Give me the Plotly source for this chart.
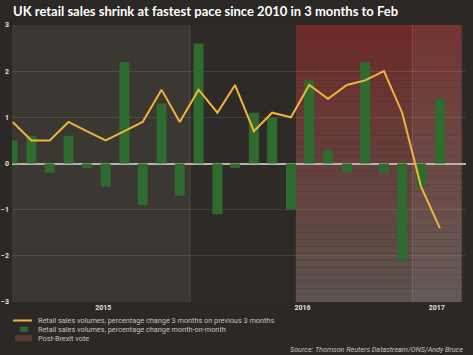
import plotly.graph_objects as go
import pandas as pd

# ---- data ----
months = ["2015-03", "2015-04", "2015-05", "2015-06", "2015-07", "2015-08",
          "2015-09", "2015-10", "2015-11", "2015-12", "2016-01", "2016-02",
          "2016-03", "2016-04", "2016-05", "2016-06", "2016-07", "2016-08",
          "2016-09", "2016-10", "2016-11", "2016-12", "2017-01", "2017-02"]
mom_change = [0.5, 0.6, -0.2, 0.6, -0.1, -0.5, 2.2, -0.9, 1.3, -0.7, 2.6, -1.1,
              -0.1, 1.1, 1.0, -1.0, 1.8, 0.3, -0.2, 2.2, -0.2, -2.1, -0.5, 1.4]
three_month_change = [0.9, 0.5, 0.5, 0.9, 0.7, 0.5, 0.7, 0.9, 1.6, 0.9, 1.6, 1.1,
                      1.7, 0.7, 1.1, 1.0, 1.7, 1.4, 1.7, 1.8, 2.0, 1.1, -0.5, -1.4]
year_labels = ["2015", "2016", "2017"]
year_label_pos = ["2015-08-11", "2016-07-04", "2017-02-10"]
y_ticks = [-3, -2, -1, 0, 1, 2, 3]

title = "UK retail sales shrink at fastest pace since 2010 in 3 months to Feb"
legend_labels = ["Retail sales volumes, percentage change 3 months on previous 3 months",
                 "Retail sales volumes, percentage change month-on-month",
                 "Post-Brexit vote"]
source = "Source: Thomson Reuters Datastream/ONS/Andy Bruce"

x_dates = [pd.Timestamp(m + "-15") for m in months]

W, H = 473, 355
ML, MR, MT, MB = 12, 7, 25, 53
PW, PH = W - ML - MR, H - MT - MB

def px2x(px):
    return (px - ML) / PW

def px2y(py):
    return (H - MB - py) / PH

PAPER = "#2c2825"
BG2016 = "#2e2a27"
BG2015 = "#3b3733"
GREEN = "#2f6a2e"
LINE = "#f0b43a"
TXT = "#c9c2bb"

fig = go.Figure()
fig.add_trace(go.Bar(x=x_dates, y=mom_change, marker_color=GREEN,
                     marker_line_width=0, width=16.5 * 86400000,
                     name=legend_labels[1], showlegend=False))
fig.add_trace(go.Scatter(x=x_dates, y=three_month_change, mode="lines",
                         line=dict(color=LINE, width=2),
                         name=legend_labels[0], showlegend=False))

shapes = []
x_start, x_end = "2015-03-14", "2017-03-30"
shade_end = "2017-03-23"
# 2015 lighter band
shapes.append(dict(type="rect", xref="x", yref="y", x0=x_start, x1="2016-01-01",
                   y0=-3, y1=3, fillcolor=BG2015, line_width=0, layer="below"))
# Post-Brexit gradient
N = 40
top = (0x6d, 0x2b, 0x29)
bot = (0x5c, 0x53, 0x4e)
for i in range(N):
    t = (i + 0.5) / N
    c = tuple(int(round(top[k] * (1 - t) + bot[k] * t)) for k in range(3))
    y1 = 3 - 6 * i / N
    y0 = 3 - 6 * (i + 1) / N
    shapes.append(dict(type="rect", xref="x", yref="y", x0="2016-06-23", x1=shade_end,
                       y0=y0, y1=y1, fillcolor="rgb(%d,%d,%d)" % c, line_width=0,
                       layer="below"))
# 2017 lighter band
shapes.append(dict(type="rect", xref="x", yref="y", x0="2017-01-01", x1=shade_end,
                   y0=-3, y1=3, fillcolor="rgba(255,255,255,0.05)", line_width=0,
                   layer="below"))
# year boundary lines
for d in ["2016-01-01", "2017-01-01"]:
    shapes.append(dict(type="line", xref="x", yref="y", x0=d, x1=d, y0=-3, y1=3,
                       line=dict(color="rgba(255,255,255,0.12)", width=1), layer="below"))

# legend glyphs
LEG_Y = [320.5, 329.3, 338.2]
shapes.append(dict(type="line", xref="paper", yref="paper", x0=px2x(13), x1=px2x(32),
                   y0=px2y(LEG_Y[0]), y1=px2y(LEG_Y[0]), line=dict(color=LINE, width=2)))
shapes.append(dict(type="rect", xref="paper", yref="paper", x0=px2x(20), x1=px2x(28),
                   y0=px2y(LEG_Y[1] + 2.5), y1=px2y(LEG_Y[1] - 2.5), fillcolor=GREEN,
                   line_width=0))
shapes.append(dict(type="rect", xref="paper", yref="paper", x0=px2x(15), x1=px2x(32),
                   y0=px2y(LEG_Y[2] + 3), y1=px2y(LEG_Y[2] - 3), fillcolor="#5a3b37",
                   line_width=0))

annotations = []
annotations.append(dict(text="<b>" + title + "</b>", xref="paper", yref="paper",
                        x=px2x(11), y=px2y(11), xanchor="left", yanchor="middle",
                        showarrow=False, font=dict(family="Lato", size=13, color="#ffffff")))
for i, lab in enumerate(legend_labels):
    annotations.append(dict(text=lab, xref="paper", yref="paper", x=px2x(36),
                            y=px2y(LEG_Y[i]), xanchor="left", yanchor="middle",
                            showarrow=False, font=dict(family="Roboto", size=7.3, color=TXT)))
annotations.append(dict(text="<i>" + source + "</i>", xref="paper", yref="paper",
                        x=px2x(465), y=px2y(349), xanchor="right", yanchor="middle",
                        showarrow=False, font=dict(family="Roboto", size=7.2, color=TXT)))

fig.update_layout(
    width=W, height=H,
    margin=dict(l=ML, r=MR, t=MT, b=MB, autoexpand=False),
    paper_bgcolor=PAPER, plot_bgcolor=BG2016,
    showlegend=False,
    shapes=shapes,
    annotations=annotations,
    xaxis=dict(type="date", range=[x_start, x_end], showgrid=False, zeroline=False,
               automargin=False,
               tickmode="array", tickvals=year_label_pos, ticktext=year_labels,
               ticks="", ticklabelstandoff=0,
               tickfont=dict(family="Roboto", size=7, color="#e8e2dc", weight="bold")),
    yaxis=dict(range=[-3, 3], tickvals=y_ticks, showgrid=True, automargin=False,
               gridcolor="rgba(255,255,255,0.10)", gridwidth=1,
               zeroline=True, zerolinecolor="#b8b2ad", zerolinewidth=1.5,
               ticks="", ticklabelstandoff=2,
               tickfont=dict(family="Roboto", size=7, color="#e8e2dc", weight="bold")),
)

fig.write_html("out.html", config={"displayModeBar": False},
               post_script="document.body.style.margin='0';"
                           "document.body.style.background='#2c2825';")
